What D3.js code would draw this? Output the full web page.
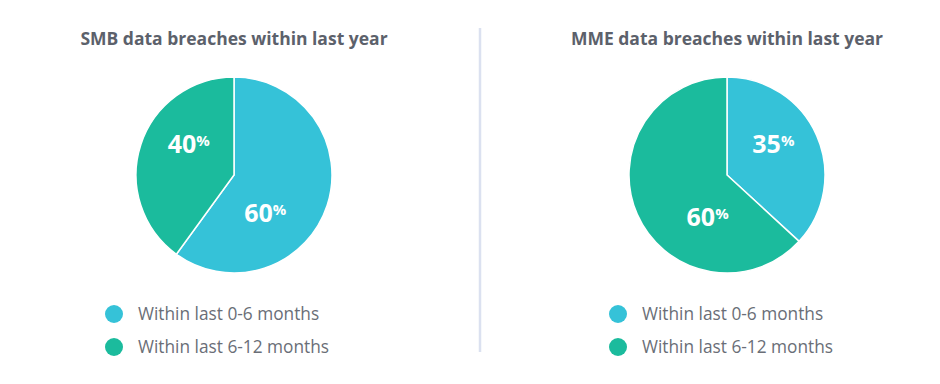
<!DOCTYPE html>
<html lang="en">
<head>
  <meta charset="UTF-8">
  <title>Data breaches within last year</title>
  <script src="https://d3js.org/d3.v7.min.js"></script>
  <style>
    body {
      margin: 0;
      background: #fff;
      font-family: "Open Sans", Arial, sans-serif;
    }
  </style>
</head>
<body>
  <div id="chart"></div>

  <script>
    // data
    const titles = ["SMB data breaches within last year", "MME data breaches within last year"];
    const categories = ["Within last 0-6 months", "Within last 6-12 months"];
    const smbValues = [60, 40];
    const mmeValues = [35, 60];

    const width = 940, height = 384;
    const colors = ["#35c2d8", "#1bbb9d"];
    const radius = 98;

    // layout per panel: pie centre + label nudges (px from arc centroid)
    const panels = [
      {title: titles[0], values: smbValues, cx: 234, legendX: 114,
       nudges: [[-21, 21], [7, -14]]},
      {title: titles[1], values: mmeValues, cx: 727, legendX: 618,
       nudges: [[-4, -9], [31, 20]]}
    ];

    const svg = d3.select("#chart")
      .append("svg")
      .attr("width", width)
      .attr("height", height);

    // divider
    svg.append("line")
      .attr("x1", 480).attr("x2", 480)
      .attr("y1", 28).attr("y2", 352)
      .attr("stroke", "#dbe1f0")
      .attr("stroke-width", 2.5);

    const pie = d3.pie().sort(null).value(d => d);
    const arc = d3.arc().innerRadius(0).outerRadius(radius);
    const labelArc = d3.arc().innerRadius(55).outerRadius(55);
    const color = d3.scaleOrdinal().domain(categories).range(colors);

    panels.forEach(p => {
      const g = svg.append("g");

      g.append("text")
        .attr("x", p.cx)
        .attr("y", 45)
        .attr("text-anchor", "middle")
        .style("font-size", "17.5px")
        .style("font-weight", "bold")
        .style("fill", "#5c616b")
        .text(p.title);

      const pg = g.append("g").attr("transform", `translate(${p.cx},175)`);
      const arcs = pie(p.values);

      pg.selectAll("path")
        .data(arcs)
        .enter()
        .append("path")
        .attr("d", arc)
        .attr("fill", (d, i) => color(categories[i]))
        .attr("stroke", "#fff")
        .attr("stroke-width", 1.5);

      const lbl = pg.selectAll(".lbl")
        .data(arcs)
        .enter()
        .append("text")
        .attr("class", "lbl")
        .attr("text-anchor", "middle")
        .attr("x", (d, i) => labelArc.centroid(d)[0] + p.nudges[i][0])
        .attr("y", (d, i) => labelArc.centroid(d)[1] + p.nudges[i][1] + 9)
        .style("fill", "#fff")
        .style("font-weight", "bold")
        .style("font-size", "25px");
      lbl.append("tspan").text(d => d.data);
      lbl.append("tspan")
        .attr("dy", -7)
        .style("font-size", "15px")
        .text("%");

      const leg = g.selectAll(".leg")
        .data(categories)
        .enter()
        .append("g")
        .attr("transform", (d, i) => `translate(${p.legendX},${314 + i * 33})`);
      leg.append("circle")
        .attr("r", 9)
        .attr("fill", d => color(d));
      leg.append("text")
        .attr("x", 24)
        .attr("y", 6)
        .style("font-size", "17.3px")
        .style("fill", "#6a6e77")
        .text(d => d);
    });
  </script>
</body>
</html>
